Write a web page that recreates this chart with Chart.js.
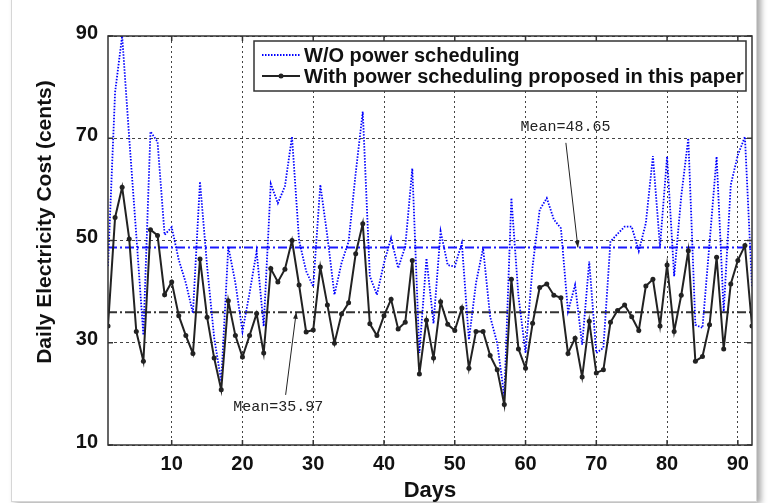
<!DOCTYPE html>
<html>
<head>
<meta charset="utf-8">
<script src="https://cdn.jsdelivr.net/npm/chart.js@4.4.0/dist/chart.umd.min.js"></script>
<style>
  html, body { margin: 0; padding: 0; background: #fff; overflow: hidden; }
  #frame { position: absolute; left: 11px; top: -10px; width: 744px; height: 510px;
           border: 1px solid #d6d6d6; box-shadow: 4px 2px 6px rgba(0,0,0,0.35); background: #fff; }
  canvas { position: absolute; left: 0; top: 0; }
</style>
</head>
<body>
<div id="frame"></div>
<canvas id="c" width="768" height="503"></canvas>
<script>
  var days = [1,2,3,4,5,6,7,8,9,10,11,12,13,14,15,16,17,18,19,20,
    21,22,23,24,25,26,27,28,29,30,31,32,33,34,35,36,37,38,39,40,
    41,42,43,44,45,46,47,48,49,50,51,52,53,54,55,56,57,58,59,60,
    61,62,63,64,65,66,67,68,69,70,71,72,73,74,75,76,77,78,79,80,
    81,82,83,84,85,86,87,88,89,90,91,92];

  // W/O power scheduling (cents)
  var withoutSched = [45,79,90,70,51,31.5,71.3,69.3,51.1,52.6,
    46.2,41.7,35.8,61.5,45,31,22.5,48.8,41.7,32.2,
    39.7,47.9,33.2,61.1,57.3,60.6,70.3,50,44,41,
    60.9,50.8,39.4,45.6,49.8,63.2,75.2,43,39.4,45.6,
    50.5,44.6,48.8,64.1,28,46.5,33.8,51.8,45.2,44.9,
    49.5,30.6,41.7,48.5,35.1,29.9,19.5,58.3,39.1,28,
    45,56,58.3,54.1,52.4,36.1,41.3,29.6,45.9,28,
    29,49.8,51.3,52.7,52.7,47.9,53.4,66.5,48.8,66.4,
    43,58.6,70,33.5,32.9,49.5,66.4,36.1,60.9,66.7,
    70.3,41];

  // with power scheduling proposed in this paper (cents)
  var withSched = [33.3,54.5,60.4,50.3,32.2,26.4,52.1,51,39.4,41.9,
    35.3,31.4,27.9,46.4,35,27,20.8,38.2,31.4,27.2,
    31.4,35.7,28,44.5,41.9,44.4,50,41.3,32.1,32.5,
    44.8,37.4,29.9,35.6,37.8,47.4,53.3,33.7,31.4,35.3,
    38.5,32.7,34,46.1,23.9,34.4,27,38,33.6,32.4,
    36.8,25,32.2,32.2,27.5,24.7,17.9,42.4,28.8,25,
    33.8,40.8,41.5,39.3,38.8,27.9,30.9,23.3,34.2,24.1,
    24.7,34,36.3,37.4,35.1,32.4,41.1,42.4,33.3,45.2,
    32.2,39.3,48,26.4,27.3,33.5,46.7,28.8,41.5,46.1,
    49,33.3];

  var meanWithout = 48.65;
  var meanWith = 35.97;

  var xTicks = [10,20,30,40,50,60,70,80,90];
  var yTicks = [10,30,50,70,90];

  var seriesNames = ['W/O power scheduling', 'With power scheduling proposed in this paper'];

  var FAMILY = '"Liberation Sans", Arial, sans-serif';
  var MONO = '15px "Liberation Mono", "Courier New", monospace';

  var toXY = function(vals) {
    return days.map(function(d, i) { return { x: d, y: vals[i] }; });
  };

  var arrow = function(ctx, x1, y1, x2, y2) {
    ctx.beginPath();
    ctx.moveTo(x1, y1);
    ctx.lineTo(x2, y2);
    ctx.stroke();
    var a = Math.atan2(y2 - y1, x2 - x1);
    ctx.beginPath();
    ctx.moveTo(x2, y2);
    ctx.lineTo(x2 - 7 * Math.cos(a - 0.35), y2 - 7 * Math.sin(a - 0.35));
    ctx.lineTo(x2 - 7 * Math.cos(a + 0.35), y2 - 7 * Math.sin(a + 0.35));
    ctx.closePath();
    ctx.fill();
  };

  var decor = {
    id: 'decor',
    afterDraw: function(chart) {
      var ctx = chart.ctx;
      var area = chart.chartArea;
      var xs = chart.scales.x, ys = chart.scales.y;
      ctx.save();

      // axes box + inward ticks
      ctx.strokeStyle = '#333';
      ctx.lineWidth = 1.5;
      ctx.strokeRect(area.left, area.top, area.right - area.left, area.bottom - area.top);
      ctx.beginPath();
      xTicks.forEach(function(t) {
        var px = xs.getPixelForValue(t);
        ctx.moveTo(px, area.bottom); ctx.lineTo(px, area.bottom - 5);
        ctx.moveTo(px, area.top); ctx.lineTo(px, area.top + 5);
      });
      yTicks.forEach(function(t) {
        var py = ys.getPixelForValue(t);
        ctx.moveTo(area.left, py); ctx.lineTo(area.left + 5, py);
        ctx.moveTo(area.right, py); ctx.lineTo(area.right - 5, py);
      });
      ctx.stroke();

      // axis titles
      ctx.fillStyle = '#111';
      ctx.textAlign = 'center';
      ctx.textBaseline = 'middle';
      ctx.font = 'bold 22px ' + FAMILY;
      ctx.fillText('Days', (area.left + area.right) / 2, 491);
      ctx.save();
      ctx.translate(45, 222);
      ctx.rotate(-Math.PI / 2);
      ctx.font = 'bold 21px ' + FAMILY;
      ctx.fillText('Daily Electricity Cost (cents)', 0, 0);
      ctx.restore();

      // legend
      ctx.font = 'bold 20px ' + FAMILY;
      ctx.fillStyle = '#fff';
      ctx.fillRect(254, 41, 492, 50);
      ctx.strokeStyle = '#333';
      ctx.lineWidth = 1.5;
      ctx.strokeRect(254, 41, 492, 50);
      ctx.strokeStyle = '#0000ff';
      ctx.lineWidth = 1.8;
      ctx.setLineDash([1.5, 1.5]);
      ctx.beginPath(); ctx.moveTo(262, 55); ctx.lineTo(300, 55); ctx.stroke();
      ctx.setLineDash([]);
      ctx.strokeStyle = '#222';
      ctx.lineWidth = 2;
      ctx.beginPath(); ctx.moveTo(262, 76); ctx.lineTo(300, 76); ctx.stroke();
      ctx.fillStyle = '#222';
      ctx.beginPath(); ctx.arc(281, 76, 2.5, 0, Math.PI * 2); ctx.fill();
      ctx.fillStyle = '#111';
      ctx.textAlign = 'left';
      ctx.fillText(seriesNames[0], 304, 56);
      ctx.fillText(seriesNames[1], 304, 77);

      // mean annotations
      ctx.font = MONO;
      ctx.fillStyle = '#222';
      ctx.strokeStyle = '#222';
      ctx.lineWidth = 1;
      ctx.fillText('Mean=' + meanWithout, xs.getPixelForValue(59.3), ys.getPixelForValue(72.1));
      arrow(ctx, xs.getPixelForValue(65.7), ys.getPixelForValue(69.1),
                 xs.getPixelForValue(67.4), ys.getPixelForValue(meanWithout));
      ctx.fillText('Mean=' + meanWith, xs.getPixelForValue(18.7), ys.getPixelForValue(17.5));
      arrow(ctx, xs.getPixelForValue(26.1), ys.getPixelForValue(19.8),
                 xs.getPixelForValue(27.6), ys.getPixelForValue(meanWith));

      ctx.restore();
    }
  };

  new Chart(document.getElementById('c').getContext('2d'), {
    type: 'line',
    data: {
      datasets: [
        {
          label: seriesNames[1],
          data: toXY(withSched),
          borderColor: '#222',
          backgroundColor: '#222',
          borderWidth: 2,
          pointRadius: 2.5,
          pointBorderWidth: 0,
          tension: 0
        },
        {
          label: seriesNames[0],
          data: toXY(withoutSched),
          borderColor: '#0000ff',
          borderWidth: 1.8,
          borderDash: [1.5, 1.5],
          pointRadius: 0,
          tension: 0
        },
        {
          label: 'mean without',
          data: [{ x: days[0], y: meanWithout }, { x: days[days.length - 1], y: meanWithout }],
          borderColor: '#1a1aff',
          borderWidth: 2,
          borderDash: [9, 3, 2, 3],
          pointRadius: 0
        },
        {
          label: 'mean with',
          data: [{ x: days[0], y: meanWith }, { x: days[days.length - 1], y: meanWith }],
          borderColor: '#333',
          borderWidth: 2,
          borderDash: [9, 3, 2, 3],
          pointRadius: 0
        }
      ]
    },
    options: {
      responsive: false,
      animation: false,
      devicePixelRatio: 1,
      layout: { padding: { top: 36, right: 16, left: 0, bottom: 0 } },
      plugins: { legend: { display: false }, tooltip: { enabled: false } },
      scales: {
        x: {
          type: 'linear',
          min: 1,
          max: 92,
          afterBuildTicks: function(scale) {
            scale.ticks = xTicks.map(function(v) { return { value: v }; });
          },
          afterFit: function(scale) { scale.height = 58; },
          border: { display: false, dash: [2, 3] },
          grid: { color: '#444', lineWidth: 1, drawTicks: false },
          ticks: { padding: 7, color: '#111', font: { family: FAMILY, size: 20, weight: 'bold' }, maxRotation: 0 }
        },
        y: {
          min: 10,
          max: 90,
          afterBuildTicks: function(scale) {
            scale.ticks = yTicks.map(function(v) { return { value: v }; });
          },
          afterFit: function(scale) { scale.width = 108; },
          border: { display: false, dash: [3, 3] },
          grid: { color: '#444', lineWidth: 1, drawTicks: false },
          ticks: { padding: 10, labelOffset: -3, color: '#111', font: { family: FAMILY, size: 20, weight: 'bold' } }
        }
      }
    },
    plugins: [decor]
  });
</script>
</body>
</html>
